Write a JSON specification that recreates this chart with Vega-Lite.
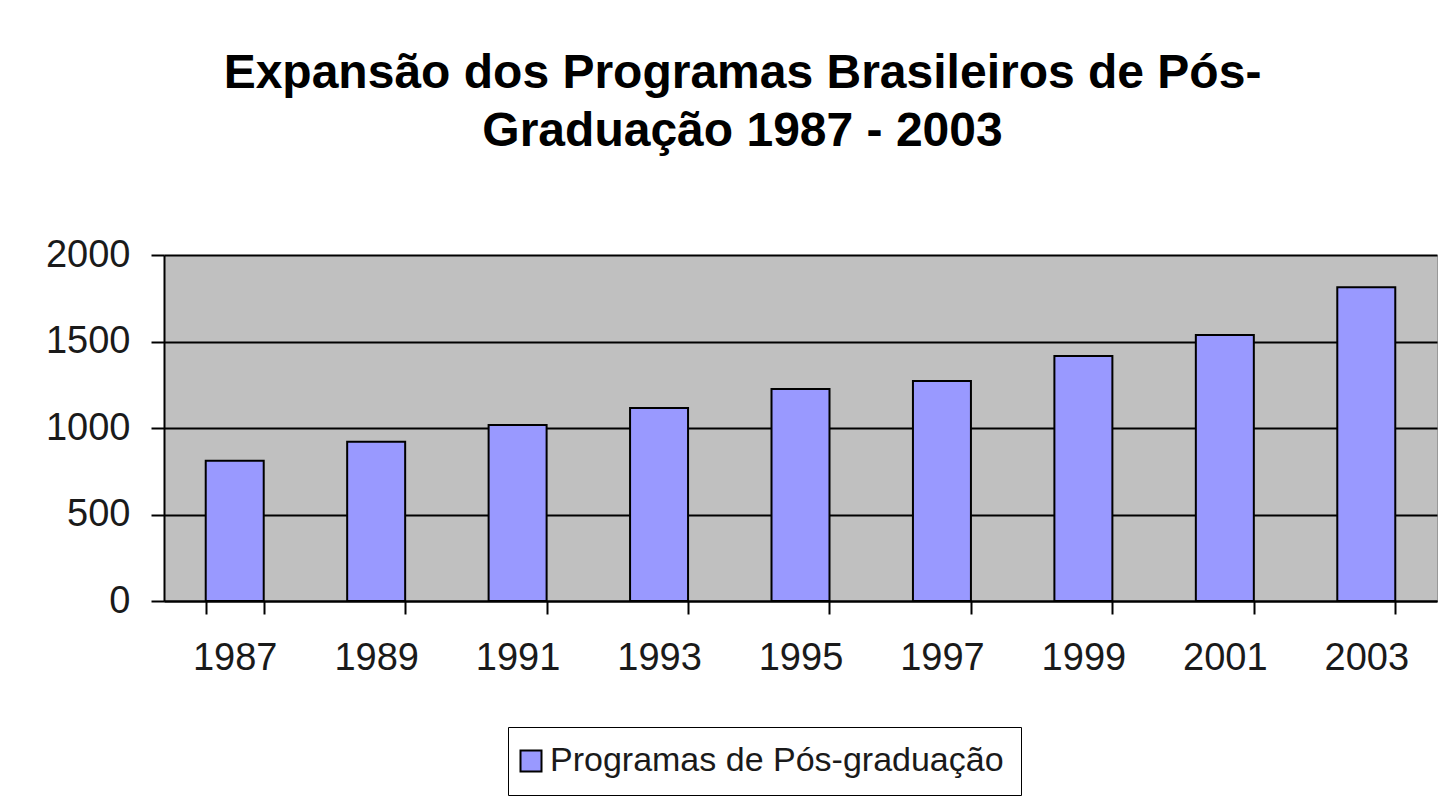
{
  "$schema": "https://vega.github.io/schema/vega-lite/v6.json",
  "autosize": {"type": "none"},
  "padding": {"left": 164, "top": 255, "right": 7, "bottom": 202},
  "width": 1273,
  "height": 346,
  "background": "white",
  "title": {
    "text": ["Expansão dos Programas Brasileiros de Pós-", "Graduação 1987 - 2003"],
    "font": "Liberation Sans",
    "fontSize": 48,
    "fontWeight": "bold",
    "color": "#000000",
    "lineHeight": 58,
    "anchor": "middle",
    "dx": -58,
    "offset": 42,
    "baseline": "alphabetic"
  },
  "data": {
    "values": [
      {"ano": "1987", "programas": 811},
      {"ano": "1989", "programas": 921},
      {"ano": "1991", "programas": 1018},
      {"ano": "1993", "programas": 1116},
      {"ano": "1995", "programas": 1225},
      {"ano": "1997", "programas": 1272},
      {"ano": "1999", "programas": 1416},
      {"ano": "2001", "programas": 1538},
      {"ano": "2003", "programas": 1813}
    ]
  },
  "mark": {"type": "bar", "stroke": "#000000", "strokeWidth": 2},
  "encoding": {
    "x": {
      "field": "ano",
      "type": "ordinal",
      "scale": {"paddingInner": 0.59, "paddingOuter": 0.295},
      "axis": {
        "title": null,
        "labelAngle": 0,
        "labelFont": "Liberation Sans",
        "labelFontSize": 38,
        "labelColor": "#1a1a1a",
        "labelPadding": 25,
        "tickBand": "extent",
        "tickSize": 13,
        "tickWidth": 2,
        "tickColor": "#000000",
        "domainColor": "#000000",
        "domainWidth": 2,
        "grid": false
      }
    },
    "y": {
      "field": "programas",
      "type": "quantitative",
      "scale": {"domain": [0, 2000], "nice": false},
      "axis": {
        "title": null,
        "values": [0, 500, 1000, 1500, 2000],
        "format": "d",
        "labelFont": "Liberation Sans",
        "labelFontSize": 38,
        "labelColor": "#1a1a1a",
        "labelPadding": 21,
        "tickSize": 13,
        "tickWidth": 2,
        "tickColor": "#000000",
        "domainColor": "#000000",
        "domainWidth": 2,
        "grid": true,
        "gridColor": "#000000",
        "gridWidth": 2
      }
    },
    "color": {
      "datum": "Programas de Pós-graduação",
      "type": "nominal",
      "scale": {"range": ["#9999FF"]},
      "legend": {
        "title": null,
        "orient": "none",
        "legendX": 344,
        "legendY": 472,
        "strokeColor": "#000000",
        "padding": 17,
        "symbolType": "square",
        "symbolSize": 441,
        "symbolOffset": -11,
        "symbolStrokeColor": "#000000",
        "symbolStrokeWidth": 2,
        "symbolFillColor": "#9999FF",
        "labelFont": "Liberation Sans",
        "labelFontSize": 34,
        "labelColor": "#1a1a1a",
        "labelOffset": 2,
        "labelLimit": 0
      }
    }
  },
  "config": {
    "view": {"fill": "#C0C0C0", "stroke": "#999999", "strokeWidth": 1}
  }
}
